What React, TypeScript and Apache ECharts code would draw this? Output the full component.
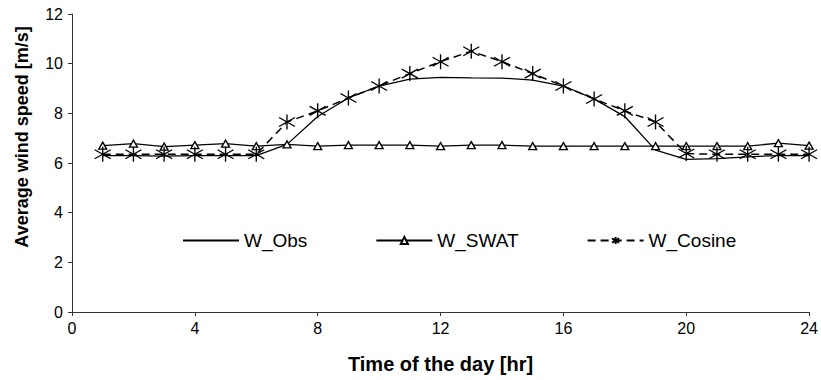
import React, { useEffect, useRef } from "react";
import * as echarts from "echarts";

const hours = [1, 2, 3, 4, 5, 6, 7, 8, 9, 10, 11, 12, 13, 14, 15, 16, 17, 18, 19, 20, 21, 22, 23, 24];
const wObs = [6.3, 6.3, 6.28, 6.3, 6.3, 6.3, 6.75, 7.87, 8.62, 9.1, 9.38, 9.45, 9.43, 9.42, 9.34, 9.1, 8.58, 7.87, 6.52, 6.15, 6.18, 6.25, 6.3, 6.3];
const wSwat = [6.7, 6.78, 6.66, 6.72, 6.78, 6.68, 6.75, 6.68, 6.72, 6.72, 6.72, 6.68, 6.72, 6.72, 6.68, 6.68, 6.68, 6.68, 6.68, 6.68, 6.68, 6.68, 6.8, 6.7];
const wCosine = [6.35, 6.35, 6.35, 6.35, 6.35, 6.35, 7.65, 8.1, 8.62, 9.1, 9.6, 10.08, 10.5, 10.08, 9.6, 9.1, 8.58, 8.1, 7.65, 6.38, 6.35, 6.35, 6.35, 6.35];
const seriesNames = ["W_Obs", "W_SWAT", "W_Cosine"];

const STAR = "path://M10,0 L10,20 M0,4 L20,16 M0,16 L20,4";
const FONT = "Liberation Sans, Arial, sans-serif";

export default function App() {
  const ref = useRef<HTMLDivElement>(null);
  useEffect(() => {
    if (!ref.current) return;
    const chart = echarts.init(ref.current, null, { renderer: "svg" });
    const pair = (arr: number[]) => hours.map((h, i) => [h, arr[i]]);
    chart.setOption({
      animation: false,
      textStyle: { fontFamily: FONT, color: "#000" },
      grid: { left: 72, right: 5, top: 14, bottom: 68 },
      legend: {
        left: 177,
        top: 226,
        itemWidth: 56,
        itemHeight: 9,
        itemGap: 68,
        textStyle: { fontSize: 19, fontFamily: FONT, color: "#000" },
        data: [
          { name: seriesNames[0], itemStyle: { opacity: 0 } },
          { name: seriesNames[1] },
          { name: seriesNames[2] },
        ],
      },
      xAxis: {
        type: "value",
        min: 0,
        max: 24,
        interval: 4,
        name: "Time of the day [hr]",
        nameLocation: "middle",
        nameGap: 42,
        nameTextStyle: { fontSize: 20, fontWeight: "bold", fontFamily: FONT, color: "#000" },
        axisLine: { show: true, onZero: false, lineStyle: { color: "#333", width: 1 } },
        axisTick: { show: true, length: 4, lineStyle: { color: "#333" } },
        axisLabel: { fontSize: 16, color: "#000", margin: 8, fontFamily: FONT },
        splitLine: { show: false },
      },
      yAxis: {
        type: "value",
        min: 0,
        max: 12,
        interval: 2,
        axisLine: { show: true, lineStyle: { color: "#333", width: 1 } },
        axisTick: { show: true, length: 4, lineStyle: { color: "#333" } },
        axisLabel: { fontSize: 16, color: "#000", margin: 9, fontFamily: FONT },
        splitLine: { show: false },
      },
      graphic: [
        {
          type: "text",
          x: 22,
          y: 137,
          rotation: Math.PI / 2,
          style: {
            text: "Average wind speed [m/s]",
            fontSize: 18,
            fontWeight: "bold",
            fontFamily: FONT,
            fill: "#000",
            align: "center",
            verticalAlign: "middle",
          },
        },
      ],
      series: [
        {
          name: "W_Obs",
          type: "line",
          data: pair(wObs),
          symbol: "none",
          lineStyle: { color: "#000", width: 1.3 },
          itemStyle: { color: "#000" },
          z: 2,
        },
        {
          name: "W_SWAT",
          type: "line",
          data: pair(wSwat),
          symbol: "triangle",
          symbolSize: [8, 7],
          lineStyle: { color: "#000", width: 1.3 },
          itemStyle: { color: "#fff", borderColor: "#000", borderWidth: 1.3 },
          z: 3,
        },
        {
          name: "W_Cosine",
          type: "line",
          data: pair(wCosine),
          symbol: STAR,
          symbolSize: [16, 15],
          lineStyle: { color: "#000", width: 1.5, type: [8, 5] },
          itemStyle: { color: "none", borderColor: "#000", borderWidth: 1.3 },
          z: 4,
        },
      ],
    });
    return () => chart.dispose();
  }, []);
  return <div ref={ref} style={{ width: 821, height: 380, position: "absolute", left: 0, top: 0 }} />;
}
